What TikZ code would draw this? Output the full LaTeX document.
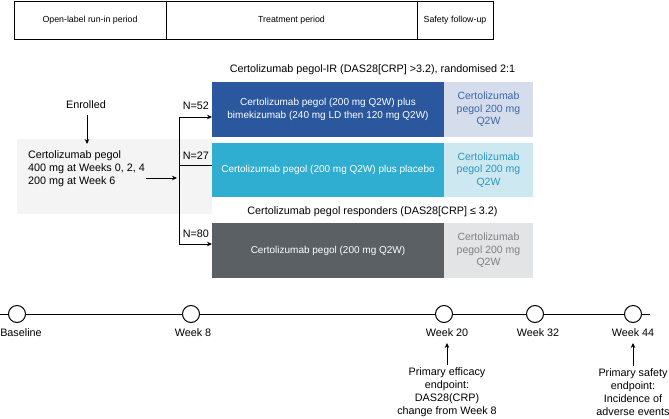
\documentclass[tikz,border=0pt]{standalone}
\usepackage{fontspec}
\setmainfont{Liberation Sans}
\usetikzlibrary{arrows.meta}
\definecolor{dblue}{HTML}{2B579F}
\definecolor{lblue}{HTML}{D5DDEC}
\definecolor{tblue}{HTML}{3C66A8}
\definecolor{dcyan}{HTML}{30AED2}
\definecolor{lcyan}{HTML}{CEE8F1}
\definecolor{tcyan}{HTML}{2A97BF}
\definecolor{dgray}{HTML}{5A6064}
\definecolor{lgray}{HTML}{E3E4E5}
\definecolor{tgray}{HTML}{7E8083}
\definecolor{rungray}{HTML}{F4F4F4}
\begin{document}
\begin{tikzpicture}[x=1pt,y=-1pt,
  every node/.style={font=\fontsize{10.8}{13}\selectfont, inner sep=0pt, outer sep=0pt},
  hdr/.style={draw=black, line width=0.8pt, minimum height=38, anchor=north west},
  hdrtext/.style={font=\fontsize{8.8}{11}\selectfont},
  arm/.style={minimum height=55, minimum width=232, text=white, align=center, font=\fontsize{10}{12.5}\selectfont},
  armr/.style={minimum height=55, minimum width=89, align=center, font=\fontsize{10.5}{12.5}\selectfont},
  arr/.style={-{Stealth[length=5pt,width=4.5pt]}, line width=0.8pt},
  ln/.style={line width=0.8pt},
  tp/.style={circle, draw=black, fill=white, line width=1pt, minimum size=17},
  wk/.style={anchor=center}
]
\useasboundingbox (0,0) rectangle (669,418);

% header
\node[hdr, minimum width=152] (h1) at (14,1) {};
\node[hdr, minimum width=251] (h2) at (166,1) {};
\node[hdr, minimum width=76] (h3) at (417,1) {};
\node[hdrtext] (t1) at (h1.center) {Open-label run-in period};
\node[hdrtext] (t2) at (h2.center) {Treatment period};
\node[hdrtext] (t3) at (h3.center) {Safety follow-up};

% run-in
\node[fill=rungray, minimum width=195, minimum height=75, anchor=north west] (runbox) at (17,139) {};
\node (enr) at (86,105) {Enrolled};
\coordinate (enrtop) at (87,115);
\coordinate (enrtip) at (87,144);
\draw[arr] (enrtop) -- (enrtip);
\node[anchor=west, align=left] (runtext) at (28,169) {Certolizumab pegol\\400 mg at Weeks 0, 2, 4\\200 mg at Week 6};
\coordinate (sfrom) at (146,178);
\coordinate (sto) at (177,178);
\draw[arr] (sfrom) -- (sto);

% arms
\node (g1) at (372.5,70) {Certolizumab pegol-IR (DAS28[CRP] >3.2), randomised 2:1};
\node[arm, fill=dblue] (b1) at (328,109.5) {Certolizumab pegol (200 mg Q2W) plus\\bimekizumab (240 mg LD then 120 mg Q2W)};
\node[armr, fill=lblue, text=tblue] (b1r) at (488.5,109.5) {Certolizumab\\pegol 200 mg\\Q2W};
\node[arm, fill=dcyan, minimum height=54] (b2) at (328,170) {Certolizumab pegol (200 mg Q2W) plus placebo};
\node[armr, fill=lcyan, text=tcyan, minimum height=54] (b2r) at (488.5,170) {Certolizumab\\pegol 200 mg\\Q2W};
\node (g2) at (372.5,212) {Certolizumab pegol responders (DAS28[CRP] ≤ 3.2)};
\node[arm, fill=dgray] (b3) at (328,250.5) {Certolizumab pegol (200 mg Q2W)};
\node[armr, fill=lgray, text=tgray] (b3r) at (488.5,250.5) {Certolizumab\\pegol 200 mg\\Q2W};

% branches
\coordinate (vt) at (179,117);
\coordinate (vm) at (179,165);
\coordinate (vb) at (179,244);
\draw[ln] (vt) -- (vb);
\draw[arr] (vt) -- (b1.west |- vt);
\draw[ln] (vm) -- (b2.west |- vm);
\draw[arr] (vb) -- (b3.west |- vb);
\node[anchor=east] (n1) at (209,106) {N=52};
\node[anchor=east] (n2) at (209,156) {N=27};
\node[anchor=east] (n3) at (209,234) {N=80};

% timeline
\coordinate (tl0) at (0,314);
\coordinate (tl1) at (650,314);
\draw[ln] (tl0) -- (tl1);
\node[tp] (c0) at (17,314) {};
\node[tp] (c8) at (191,314) {};
\node[tp] (c20) at (444,314) {};
\node[tp] (c32) at (535,314) {};
\node[tp] (c44) at (633,314) {};
\node[wk] (w0) at (21,333) {Baseline};
\node[wk] (w8) at (193,333) {Week 8};
\node[wk] (w20) at (447,333) {Week 20};
\node[wk] (w32) at (538,333) {Week 32};
\node[wk] (w44) at (633,333) {Week 44};

\node[align=center] (eff) at (447,392.5) {Primary efficacy\\endpoint:\\DAS28(CRP)\\change from Week 8};
\node[align=center] (saf) at (633,392.5) {Primary safety\\endpoint:\\Incidence of\\adverse events};
\draw[arr, shorten >=6pt] (eff.north) ++(0,-3) -- (w20.south);
\draw[arr, shorten >=6pt] (saf.north) ++(0,-3) -- (w44.south);
\end{tikzpicture}
\end{document}
